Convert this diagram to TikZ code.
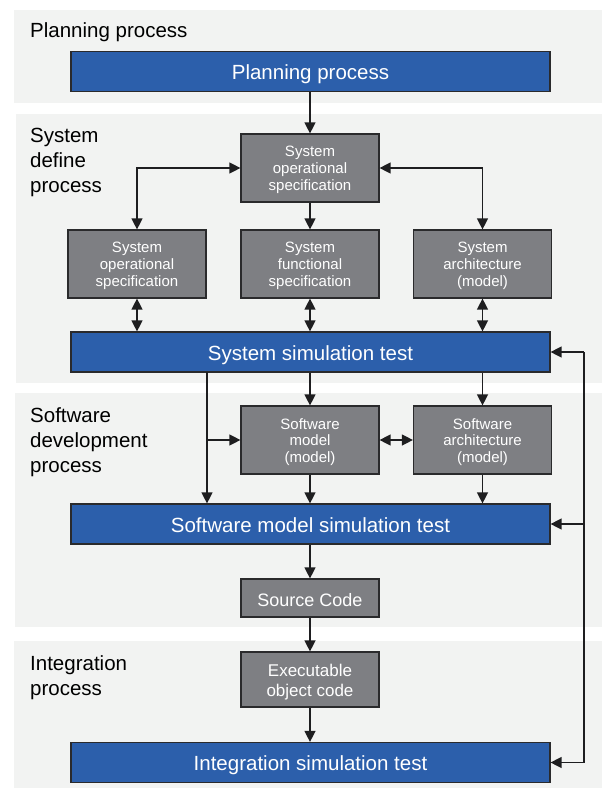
\documentclass[tikz,border=0pt]{standalone}
\usepackage{fontspec}
\setmainfont{Liberation Sans}
\usetikzlibrary{arrows.meta}
\definecolor{panelbg}{HTML}{F2F3F2}
\definecolor{bluebox}{HTML}{2C5FAB}
\definecolor{graybox}{HTML}{7E7F83}
\definecolor{edgecol}{HTML}{2A2A2C}
\definecolor{linecol}{HTML}{1E1E20}
\newcommand{\boxtext}[2][2.5pt]{\raisebox{-#1}[\height][\depth]{\begin{tabular}{@{}c@{}}#2\end{tabular}}}
\tikzset{
  panel/.style={fill=panelbg, draw=none},
  panellabel/.style={anchor=west, align=left, inner sep=0pt, text=black,
    font=\fontsize{20.5}{25}\selectfont},
  bigbox/.style={draw=edgecol, line width=1.2pt, fill=bluebox, text=white,
    minimum width=479pt, minimum height=40pt, inner sep=0pt,
    text height=16.5pt, text depth=0pt,
    font=\fontsize{20.5}{24}\selectfont},
  smallbox/.style={draw=edgecol, line width=1.2pt, fill=graybox, text=white,
    minimum width=138pt, minimum height=68pt, inner sep=0pt, align=center,
    font=\fontsize{15}{17}\selectfont},
  conn/.style={draw=linecol, line width=1.3pt,
    -{Triangle[length=11pt,width=11pt]}},
  dconn/.style={draw=linecol, line width=1.3pt,
    {Triangle[length=11pt,width=11pt]}-{Triangle[length=11pt,width=11pt]}},
  plainline/.style={draw=linecol, line width=1.3pt}
}
\begin{document}
\begin{tikzpicture}[x=1pt,y=-1pt]
\useasboundingbox (0,0) rectangle (602,790);
\fill[white] (0,0) rectangle (602,790);
% panels
\path[panel] (14,10) rectangle (602,103);
\path[panel] (16,114) rectangle (602,383);
\path[panel] (15,393) rectangle (602,627);
\path[panel] (14,641) rectangle (602,788);
% panel labels
\node[panellabel] (lplan) at (30,32.5) {Planning process};
\node[panellabel] (lsys) at (30,162) {System\\define\\process};
\node[panellabel] (lsw) at (30,442) {Software\\development\\process};
\node[panellabel] (lint) at (30,677.5) {Integration\\process};
% boxes
\node[bigbox] (plan) at (310.5,71.5) {Planning process};
\node[smallbox] (sop) at (310,168) {\boxtext{System\\operational\\specification}};
\node[smallbox] (sopl) at (137,264) {\boxtext{System\\operational\\specification}};
\node[smallbox] (sfs) at (310,264) {\boxtext{System\\functional\\specification}};
\node[smallbox] (sarch) at (482.5,264) {\boxtext{System\\architecture\\(model)}};
\node[bigbox] (sst) at (310.5,352) {System simulation test};
\node[smallbox, font=\fontsize{15}{16.8}\selectfont] (swm) at (310,440) {\boxtext{Software\\model\\(model)}};
\node[smallbox, font=\fontsize{15}{16.8}\selectfont] (swa) at (482.5,440) {\boxtext{Software\\architecture\\(model)}};
\node[bigbox] (smst) at (310.5,524) {Software model simulation test};
\node[smallbox, minimum height=38pt, text height=16pt, text depth=0pt, font=\fontsize{18}{20}\selectfont] (src) at (310,598) {Source Code};
\node[smallbox, minimum height=55pt, font=\fontsize{17}{20}\selectfont] (exe) at (310,679.5) {\boxtext{Executable\\object code}};
\node[bigbox] (ist) at (310.5,762.5) {Integration simulation test};
% connectors
\draw[conn] (sop.north |- plan.south) -- (sop.north);
\draw[dconn] (sopl.north) |- (sop.west);
\draw[dconn] (sarch.north) |- (sop.east);
\draw[conn] (sop.south) -- (sfs.north);
\draw[dconn] (sopl.south) -- (sopl.south |- sst.north);
\draw[dconn] (sfs.south) -- (sfs.south |- sst.north);
\draw[dconn] (sarch.south) -- (sarch.south |- sst.north);
\draw[conn] (swm.north |- sst.south) -- (swm.north);
\draw[conn] (swa.north |- sst.south) -- (swa.north);
\coordinate (br0) at (207,372);
\coordinate (br1) at (207,440);
\draw[conn] (br0) -- (br0 |- smst.north);
\draw[conn] (br1) -- (swm.west);
\draw[dconn] (swm.east) -- (swa.west);
\draw[conn] (swm.south) -- (swm.south |- smst.north);
\draw[conn] (swa.south) -- (swa.south |- smst.north);
\draw[conn] (src.north |- smst.south) -- (src.north);
\draw[conn] (src.south) -- (exe.north);
\draw[conn] (exe.south) -- (exe.south |- ist.north);
% feedback
\coordinate (fb1) at (584,352);
\coordinate (fb2) at (584,524);
\coordinate (fb3) at (584,762.5);
\draw[plainline] (fb1) -- (fb3);
\draw[conn] (fb1) -- (sst.east);
\draw[conn] (fb2) -- (smst.east);
\draw[conn] (fb3) -- (ist.east);
\end{tikzpicture}
\end{document}
